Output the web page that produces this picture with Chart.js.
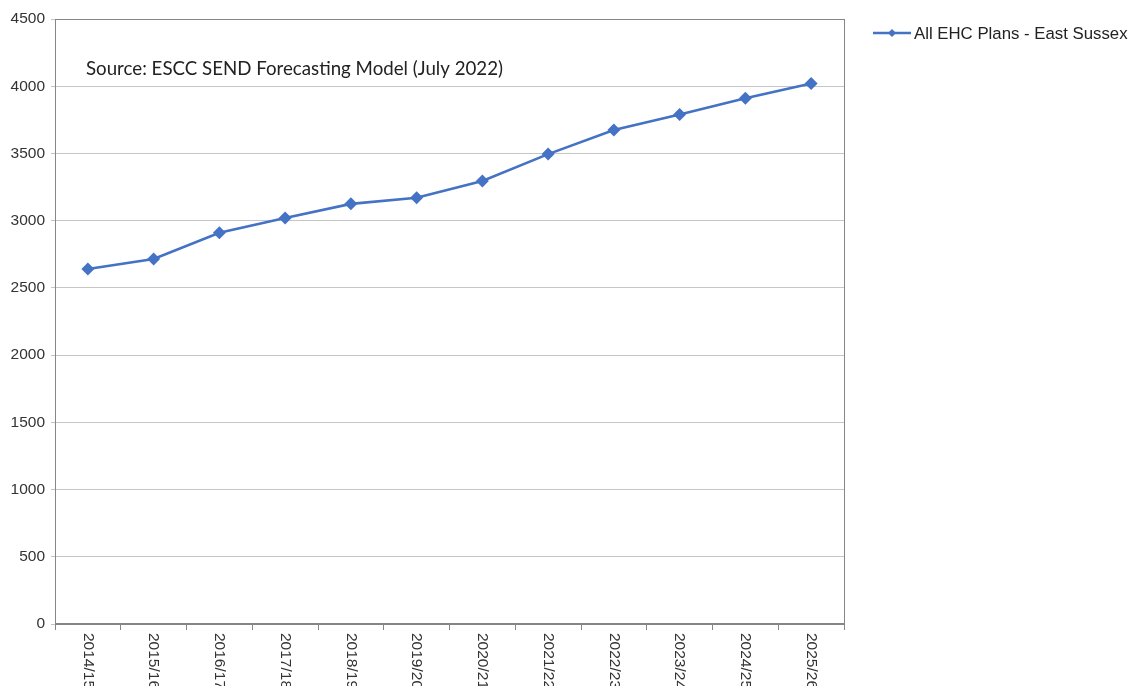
<!DOCTYPE html>
<html>
<head>
<meta charset="utf-8">
<script src="https://cdn.jsdelivr.net/npm/chart.js@4"></script>
<style>
  html, body { margin: 0; padding: 0; background: #fff; }
  #wrap { width: 1132px; height: 686px; }
</style>
</head>
<body>
<div id="wrap"><canvas id="chart" width="1132" height="686"></canvas></div>
<script>
const years = ["2014/15", "2015/16", "2016/17", "2017/18", "2018/19", "2019/20",
  "2020/21", "2021/22", "2022/23", "2023/24", "2024/25", "2025/26"];
const ehcPlans = [2640, 2715, 2910, 3020, 3125, 3170, 3295, 3495, 3675, 3790, 3910, 4020];
const seriesName = "All EHC Plans - East Sussex";
const sourceNote = "Source: ESCC SEND Forecasting Model (July 2022)";

const lineColor = "#4472C4";

// box round the plot, rotated x labels, note and legend
const extras = {
  id: "extras",
  afterDraw(c) {
    const ctx = c.ctx;
    const a = c.chartArea;
    const x = c.scales.x;

    ctx.save();
    ctx.strokeStyle = "#868686";
    ctx.lineWidth = 1;
    ctx.strokeRect(a.left + 0.5, a.top + 0.5, a.right - a.left, a.bottom - a.top);
    ctx.lineWidth = 2;
    ctx.beginPath();
    ctx.moveTo(a.left, a.bottom);
    ctx.lineTo(a.right + 1, a.bottom);
    ctx.stroke();

    ctx.fillStyle = "#333";
    ctx.font = "15.5px 'Liberation Sans', Arial, sans-serif";
    ctx.textAlign = "left";
    ctx.textBaseline = "middle";
    years.forEach((y, i) => {
      ctx.save();
      ctx.translate(x.getPixelForValue(i), a.bottom + 9);
      ctx.rotate(Math.PI / 2);
      ctx.fillText(y, 0, 0);
      ctx.restore();
    });

    ctx.fillStyle = "#222";
    ctx.font = "18.7px Lato, 'Open Sans', sans-serif";
    ctx.fillText(sourceNote, 86, 69);

    // legend
    const ly = 33;
    ctx.strokeStyle = lineColor;
    ctx.lineWidth = 2.5;
    ctx.beginPath();
    ctx.moveTo(873, ly);
    ctx.lineTo(911, ly);
    ctx.stroke();
    ctx.fillStyle = lineColor;
    ctx.beginPath();
    ctx.moveTo(892, ly - 4);
    ctx.lineTo(896, ly);
    ctx.lineTo(892, ly + 4);
    ctx.lineTo(888, ly);
    ctx.closePath();
    ctx.fill();
    ctx.fillStyle = "#222";
    ctx.font = "16.8px 'Liberation Sans', Arial, sans-serif";
    ctx.fillText(seriesName, 914, ly + 1);
    ctx.restore();
  }
};

new Chart(document.getElementById("chart"), {
  type: "line",
  data: {
    labels: years,
    datasets: [{
      label: seriesName,
      data: ehcPlans,
      borderColor: lineColor,
      backgroundColor: lineColor,
      borderWidth: 2.6,
      pointStyle: "rectRot",
      pointRadius: 6.5,
      pointBorderWidth: 0,
      tension: 0
    }]
  },
  options: {
    responsive: false,
    animation: false,
    layout: { padding: { top: 19, right: 288, left: 0, bottom: 0 } },
    plugins: {
      legend: { display: false },
      tooltip: { enabled: false }
    },
    scales: {
      x: {
        offset: true,
        grid: {
          offset: true,
          drawOnChartArea: false,
          color: "#868686",
          tickLength: 6
        },
        border: { color: "#868686" },
        ticks: { color: "rgba(0,0,0,0)", maxRotation: 0, autoSkip: false },
        afterFit(s) { s.height = 62; }
      },
      y: {
        min: 0,
        max: 4500,
        ticks: {
          stepSize: 500,
          color: "#333",
          padding: 6,
          font: { family: "'Liberation Sans', Arial, sans-serif", size: 15.5 },
          callback: v => String(v)
        },
        grid: { color: "#c6c6c6", tickLength: 4 },
        border: { color: "#868686" },
        afterFit(s) { s.width = 55; }
      }
    }
  },
  plugins: [extras]
});
</script>
</body>
</html>
